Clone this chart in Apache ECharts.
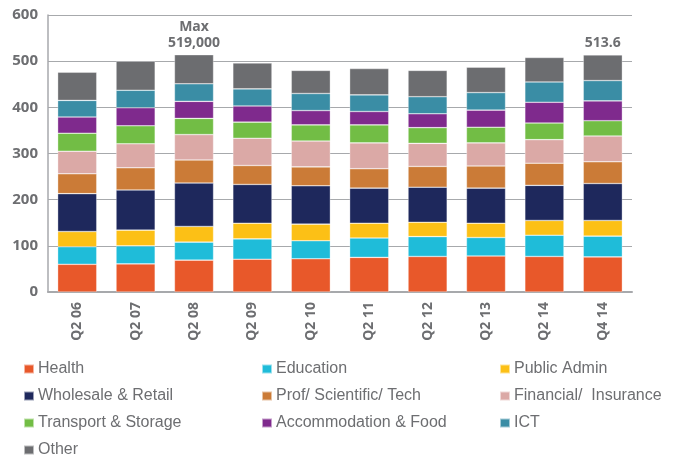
<!DOCTYPE html>
<html>
<head>
<meta charset="utf-8">
<style>
  html, body { margin: 0; padding: 0; background: #fff; }
  #chart { width: 675px; height: 460px; }
</style>
<script src="https://cdn.jsdelivr.net/npm/echarts@6/dist/echarts.min.js"></script>
</head>
<body>
<div id="chart"></div>
<script>
// quarters on the x axis
const categories = ['Q2 06', 'Q2 07', 'Q2 08', 'Q2 09', 'Q2 10', 'Q2 11', 'Q2 12', 'Q2 13', 'Q2 14', 'Q4 14'];

// employment by sector, thousands (stacked bottom to top)
const health = [60, 61, 69, 71, 72, 75, 77, 78, 77, 76];
const education = [38, 39, 39, 44, 39, 42, 43, 40, 46, 45];
const publicAdmin = [33, 34, 34, 34, 36, 32, 31, 31, 32, 34];
const wholesale = [82, 87, 94, 84, 83, 76, 76, 76, 76, 80];
const profSci = [43, 48, 50, 41, 41, 42, 45, 48, 48, 47];
const financial = [49, 52, 55, 59, 56, 56, 50, 50, 51, 56];
const transport = [39, 39, 35, 35, 35, 39, 34, 34, 36, 33];
const accommodation = [35, 39, 37, 35, 31, 29, 30, 37, 45, 43];
const ict = [36, 38, 38, 37, 37, 36, 37, 38, 44, 44];
const other = [61, 63, 63, 56, 50, 57, 57, 55, 53, 55.6];

// callouts above the bars
const callouts = { 2: 'Max\n519,000', 9: '513.6' };

const sectors = [
  { name: 'Health', data: health, color: '#e8582a' },
  { name: 'Education', data: education, color: '#1fbcd9' },
  { name: 'Public Admin', data: publicAdmin, color: '#fcc016' },
  { name: 'Wholesale & Retail', data: wholesale, color: '#1e285c' },
  { name: 'Prof/ Scientific/ Tech', data: profSci, color: '#cb7b37' },
  { name: 'Financial/  Insurance', data: financial, color: '#dba9a6' },
  { name: 'Transport & Storage', data: transport, color: '#72bd45' },
  { name: 'Accommodation & Food', data: accommodation, color: '#7f2a8d' },
  { name: 'ICT', data: ict, color: '#3a8da5' },
  { name: 'Other', data: other, color: '#6c6d70' }
];

const chart = echarts.init(document.getElementById('chart'));

const gray = '#6d6e71';
const legendFont = {
  color: gray,
  fontSize: 16,
  fontFamily: '"Liberation Sans", Arial, sans-serif'
};

// one legend per item so the three columns line up
const legendCols = [23, 261, 499];
const legends = sectors.map((s, i) => ({
  show: true,
  left: legendCols[i % 3],
  top: 361 + Math.floor(i / 3) * 27,
  data: [s.name],
  icon: 'rect',
  itemWidth: 10,
  itemHeight: 9,
  itemGap: 0,
  padding: 0,
  textStyle: { ...legendFont, padding: [0, 0, 0, -1] },
  selectedMode: false
}));

const series = sectors.map((s, i) => {
  const isLast = i === sectors.length - 1;
  return {
    name: s.name,
    type: 'bar',
    stack: 'total',
    barWidth: '67%',
    itemStyle: { color: s.color, borderColor: 'rgba(255,255,255,0.55)', borderWidth: 0.6 },
    data: s.data.map((v, j) => {
      if (isLast && callouts[j]) {
        return {
          value: v,
          label: {
            show: true,
            position: 'top',
            distance: 4,
            formatter: callouts[j],
            color: gray,
            fontSize: 14,
            fontWeight: 'bold',
            lineHeight: 16,
            fontFamily: '"Open Sans", sans-serif'
          }
        };
      }
      return v;
    })
  };
});

const option = {
  animation: false,
  legend: legends,
  grid: { left: 48, right: 43, top: 15, bottom: 168 },
  xAxis: {
    type: 'category',
    data: categories,
    axisTick: { show: false },
    axisLine: { lineStyle: { color: '#a7a9ac', width: 2 } },
    axisLabel: {
      rotate: 90,
      margin: 10,
      color: gray,
      fontSize: 14,
      fontWeight: 'bold',
      fontFamily: '"Open Sans", sans-serif'
    }
  },
  yAxis: {
    type: 'value',
    min: 0,
    max: 600,
    interval: 100,
    axisLine: { show: true, lineStyle: { color: '#a7a9ac', width: 1.5 } },
    axisTick: { show: false },
    axisLabel: {
      margin: 10,
      color: gray,
      fontSize: 15,
      fontWeight: 'bold',
      fontFamily: '"Open Sans", sans-serif'
    },
    splitLine: { lineStyle: { color: '#a7a9ac', width: 1 } }
  },
  series: series
};

chart.setOption(option);
</script>
</body>
</html>
